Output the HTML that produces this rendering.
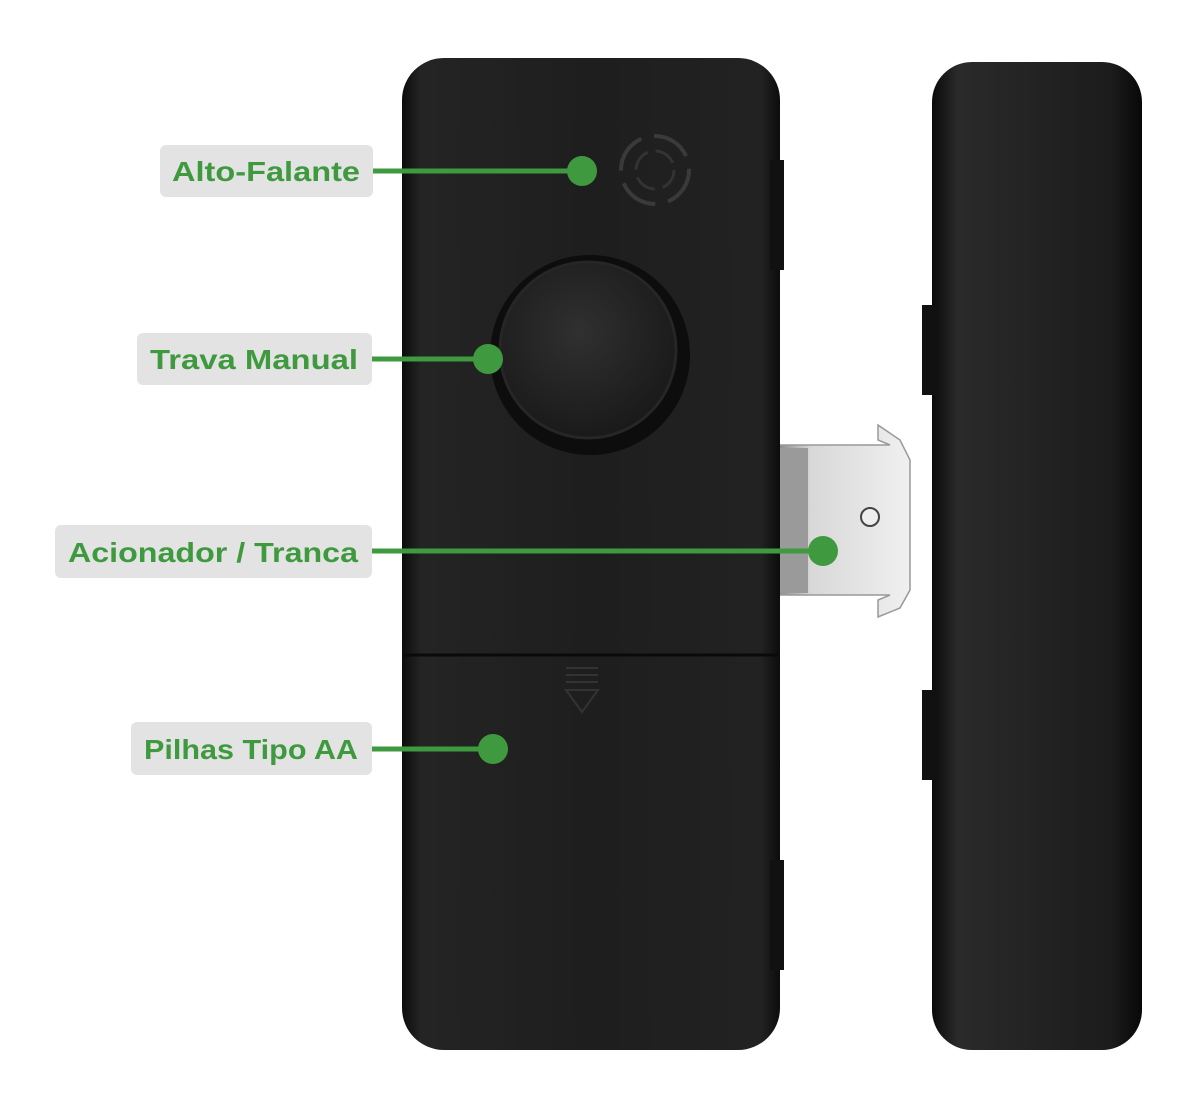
<!DOCTYPE html>
<html><head><meta charset="utf-8"><style>
html,body{margin:0;padding:0;background:#fff;}
svg{display:block;}
text{font-family:"Liberation Sans",sans-serif;font-weight:bold;fill:#3f9a3f;font-size:28px;}
</style></head><body>
<svg width="1200" height="1101" viewBox="0 0 1200 1101">
<defs>
<linearGradient id="body" x1="0" x2="1" y1="0" y2="0">
<stop offset="0" stop-color="#0c0c0c"/><stop offset="0.05" stop-color="#242424"/><stop offset="0.5" stop-color="#1e1e1e"/><stop offset="0.95" stop-color="#222"/><stop offset="1" stop-color="#0c0c0c"/>
</linearGradient>
<linearGradient id="side" x1="0" x2="1" y1="0" y2="0">
<stop offset="0" stop-color="#0a0a0a"/><stop offset="0.12" stop-color="#2a2a2a"/><stop offset="0.85" stop-color="#1c1c1c"/><stop offset="1" stop-color="#080808"/>
</linearGradient>
<linearGradient id="metal" x1="0" x2="1" y1="0" y2="0">
<stop offset="0" stop-color="#8a8a8a"/><stop offset="0.25" stop-color="#d8d8d8"/><stop offset="1" stop-color="#f0f0f0"/>
</linearGradient>
<radialGradient id="knob" cx="0.45" cy="0.4" r="0.6">
<stop offset="0" stop-color="#303030"/><stop offset="1" stop-color="#1a1a1a"/>
</radialGradient>
</defs>
<path d="M878 425 L900 440 L910 460 L910 590 L900 608 L878 617 L878 600 L890 595 L778 595 L778 445 L890 445 L878 440 Z" fill="url(#metal)" stroke="#999" stroke-width="1.5"/>
<rect x="778" y="448" width="30" height="145" fill="#9a9a9a"/>
<circle cx="870" cy="517" r="9" fill="#eee" stroke="#444" stroke-width="2"/>
<rect x="932" y="62" width="210" height="988" rx="40" fill="url(#side)"/>
<rect x="922" y="305" width="14" height="90" fill="#111"/>
<rect x="922" y="690" width="14" height="90" fill="#111"/>
<rect x="402" y="58" width="378" height="992" rx="42" fill="url(#body)"/>
<rect x="770" y="160" width="14" height="110" fill="#111"/>
<rect x="770" y="860" width="14" height="110" fill="#111"/>
<line x1="404" y1="655" x2="778" y2="655" stroke="#0a0a0a" stroke-width="3"/>
<circle cx="655" cy="170" r="34" fill="none" stroke="#3a3a3a" stroke-width="4" stroke-dasharray="40 13"/>
<circle cx="655" cy="170" r="19" fill="none" stroke="#333" stroke-width="3" stroke-dasharray="22 8"/>
<circle cx="590" cy="355" r="100" fill="#0d0d0d"/>
<circle cx="588" cy="350" r="88" fill="url(#knob)" stroke="#262626" stroke-width="3"/>
<g stroke="#333" stroke-width="2" fill="none">
<line x1="566" y1="668" x2="598" y2="668"/><line x1="566" y1="675" x2="598" y2="675"/><line x1="566" y1="682" x2="598" y2="682"/>
<path d="M566 690 L598 690 L582 712 Z"/>
</g>
<g fill="#e3e3e3">
<rect x="160" y="145" width="213" height="52" rx="6"/>
<rect x="137" y="333" width="235" height="52" rx="6"/>
<rect x="55" y="525" width="317" height="53" rx="6"/>
<rect x="131" y="722" width="241" height="53" rx="6"/>
</g>
<text x="172" y="181" textLength="188" lengthAdjust="spacingAndGlyphs">Alto-Falante</text>
<text x="150" y="369" textLength="208" lengthAdjust="spacingAndGlyphs">Trava Manual</text>
<text x="68" y="562" textLength="290" lengthAdjust="spacingAndGlyphs">Acionador / Tranca</text>
<text x="144" y="759" textLength="214" lengthAdjust="spacingAndGlyphs">Pilhas Tipo AA</text>
<g stroke="#3f9a3f" stroke-width="5">
<line x1="373" y1="171" x2="582" y2="171"/>
<line x1="372" y1="359" x2="488" y2="359"/>
<line x1="372" y1="551" x2="823" y2="551"/>
<line x1="372" y1="749" x2="493" y2="749"/>
</g>
<g fill="#3f9a3f">
<circle cx="582" cy="171" r="15"/>
<circle cx="488" cy="359" r="15"/>
<circle cx="823" cy="551" r="15"/>
<circle cx="493" cy="749" r="15"/>
</g>
</svg>
</body></html>
